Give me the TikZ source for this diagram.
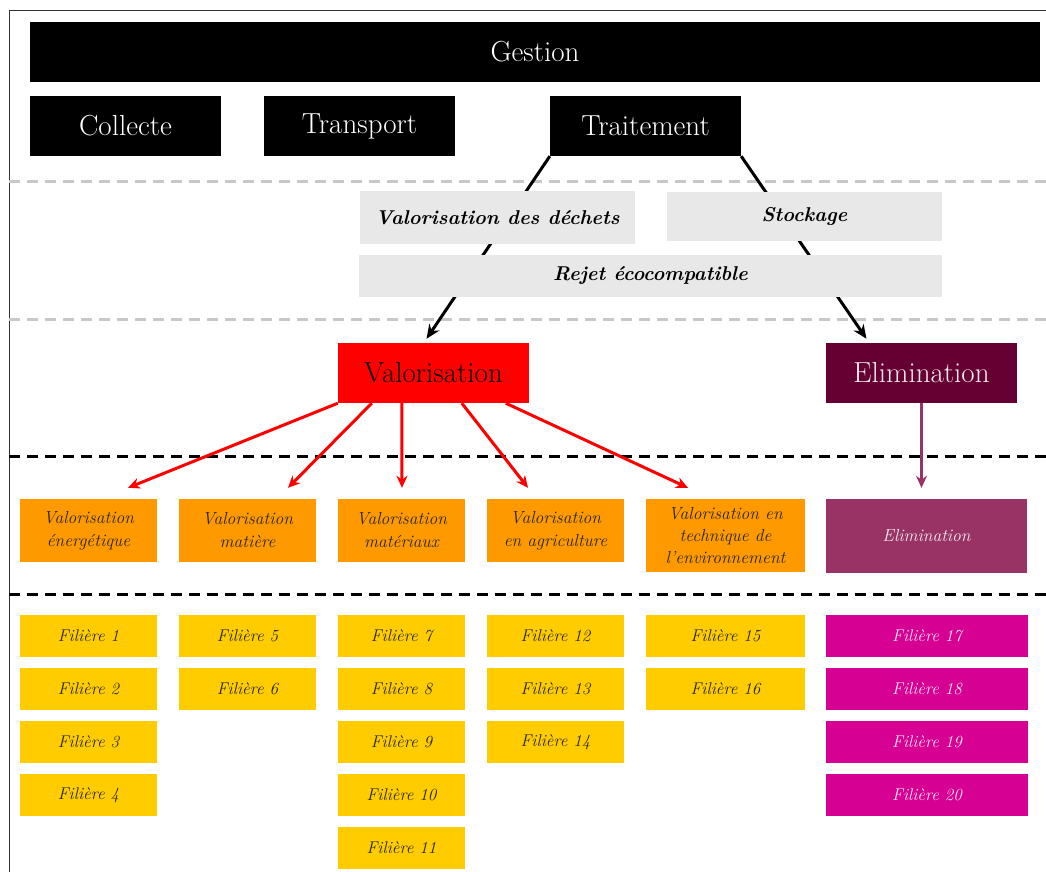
\documentclass[tikz,border=0pt]{standalone}
\usetikzlibrary{arrows.meta,calc}

\definecolor{valred}{RGB}{255,0,0}
\definecolor{elimdark}{RGB}{102,0,51}
\definecolor{elimlight}{RGB}{153,51,102}
\definecolor{valorange}{RGB}{255,153,0}
\definecolor{filyellow}{RGB}{255,204,0}
\definecolor{filpink}{RGB}{214,0,147}
\definecolor{boxgray}{RGB}{232,232,232}
\definecolor{dashgray}{RGB}{200,200,200}

\tikzset{
  blackbox/.style={fill=black, text=white, inner sep=0pt, font=\fontsize{29}{33}\selectfont},
  graybox/.style={fill=boxgray, inner sep=0pt, font=\bfseries\itshape\fontsize{20}{24}\selectfont},
  orangebox/.style={fill=valorange, inner sep=0pt, align=center, text=black!85, font=\itshape\fontsize{17.5}{23}\selectfont},
  filbox/.style={fill=filyellow, inner sep=0pt, minimum height=42, text=black!85, font=\itshape\fontsize{17}{20}\selectfont},
  pinkbox/.style={fill=filpink, inner sep=0pt, minimum height=42, minimum width=202, text=white!90!filpink, font=\itshape\fontsize{17}{20}\selectfont},
  sepline/.style={line width=3pt, dash pattern=on 11pt off 7pt},
}

\begin{document}
\begin{tikzpicture}[x=1pt,y=1pt,yscale=-1,xscale=1]
        \useasboundingbox (0,0) rectangle (1046,872);

        % Frame
        \draw [black!80, line width=1pt] (9,872) -- (9,11) -- (1046,11);

        % Separators
        \draw [sepline, dashgray] (9,181) -- (1046,181);
        \draw [sepline, dashgray] (9,319) -- (1046,319);
        \draw [sepline, black] (9,456) -- (1046,456);
        \draw [sepline, black] (9,594) -- (1046,594);

        % Gestion row
        \node [blackbox, minimum width=1010, minimum height=60] (gestion) at (535,52) {Gestion};
        \node [blackbox, minimum width=191, minimum height=60] (collecte) at (125.5,126) {Collecte};
        \node [blackbox, minimum width=191, minimum height=60] (transport) at (359.5,126) {Transport};
        \node [blackbox, minimum width=191, minimum height=60] (traitement) at (645.5,126) {Traitement};

        % Valorisation / Elimination
        \node [fill=valred, text=black, inner sep=0pt, minimum width=191, minimum height=60, font=\fontsize{29}{33}\selectfont] (valo) at (433.5,373) {Valorisation};
        \node [fill=elimdark, text=white!92!elimdark, inner sep=0pt, minimum width=191, minimum height=60, font=\fontsize{29}{33}\selectfont] (elim) at (921.5,373) {Elimination};

        % Arrows behind the gray boxes
        \draw [line width=3pt, -{Stealth[length=14pt,width=12pt]}] (traitement.south west) -- ($(valo.north)+(-7,-4)$);
        \draw [line width=3pt, -{Stealth[length=14pt,width=12pt]}] (traitement.south east) -- ($(elim.north)+(-55,-4)$);

        % Gray boxes
        \node [graybox, minimum width=275, minimum height=53] (dechets) at (497.5,217.5) {Valorisation des déchets};
        \node [graybox, minimum width=275, minimum height=49] (stockage) at (804.5,216.5) {Stockage};
        \node [graybox, minimum width=583, minimum height=42] (rejet) at (650.5,276) {Rejet écocompatible};

        % Orange boxes
        \node [orangebox, minimum width=137, minimum height=63] (energ) at (88.5,530.5) {Valorisation\\énergétique};
        \node [orangebox, minimum width=137, minimum height=63] (matiere) at (247.5,530.5) {Valorisation\\matière};
        \node [orangebox, minimum width=127, minimum height=63] (materiaux) at (401.5,530.5) {Valorisation\\matériaux};
        \node [orangebox, minimum width=137, minimum height=63] (agri) at (555.5,530.5) {Valorisation\\en agriculture};
        \node [orangebox, minimum width=159, minimum height=73, font=\itshape\fontsize{17.5}{22}\selectfont] (envir) at (725.5,535.5) {Valorisation en\\technique de\\l'environnement};
        \node [fill=elimlight, inner sep=0pt, minimum width=201, minimum height=74, text=white!90!elimlight, font=\itshape\fontsize{17.5}{20}\selectfont] (elimbis) at (926.5,536) {Elimination};

        % Red arrows
        \draw [valred, line width=3pt, -{Stealth[length=12pt,width=11pt]}] (valo.south west) -- ($(energ.north)+(39.5,-11)$);
        \draw [valred, line width=3pt, -{Stealth[length=12pt,width=11pt]}] ($(valo.south west)+(34,0)$) -- ($(matiere.north)+(40.5,-11)$);
        \draw [valred, line width=3pt, -{Stealth[length=12pt,width=11pt]}] ($(valo.south west)+(64,0)$) -- ($(materiaux.north)+(0.5,-11)$);
        \draw [valred, line width=3pt, -{Stealth[length=12pt,width=11pt]}] ($(valo.south west)+(124,0)$) -- ($(agri.north)+(-27.5,-11)$);
        \draw [valred, line width=3pt, -{Stealth[length=12pt,width=11pt]}] ($(valo.south west)+(168,0)$) -- ($(envir.north)+(-37.5,-11)$);

        % Purple arrow
        \coordinate (elimtip) at ($(elimbis.north)+(0,-11)$);
        \draw [elimlight, line width=3pt, -{Stealth[length=12pt,width=11pt]}] (elim.south) -- (elim.south |- elimtip);

        % Filieres
        \node [filbox, minimum width=137] (f1) at (88.5,636) {Filière 1};
        \node [filbox, minimum width=137] (f2) at (88.5,689) {Filière 2};
        \node [filbox, minimum width=137] (f3) at (88.5,742) {Filière 3};
        \node [filbox, minimum width=137] (f4) at (88.5,795) {Filière 4};
        \node [filbox, minimum width=137] (f5) at (247.5,636) {Filière 5};
        \node [filbox, minimum width=137] (f6) at (247.5,689) {Filière 6};
        \node [filbox, minimum width=127] (f7) at (401.5,636) {Filière 7};
        \node [filbox, minimum width=127] (f8) at (401.5,689) {Filière 8};
        \node [filbox, minimum width=127] (f9) at (401.5,742) {Filière 9};
        \node [filbox, minimum width=127] (f10) at (401.5,795) {Filière 10};
        \node [filbox, minimum width=127] (f11) at (401.5,848) {Filière 11};
        \node [filbox, minimum width=137] (f12) at (555.5,636) {Filière 12};
        \node [filbox, minimum width=137] (f13) at (555.5,689) {Filière 13};
        \node [filbox, minimum width=137] (f14) at (555.5,742) {Filière 14};
        \node [filbox, minimum width=159] (f15) at (725.5,636) {Filière 15};
        \node [filbox, minimum width=159] (f16) at (725.5,689) {Filière 16};
        \node [pinkbox] (f17) at (927,636) {Filière 17};
        \node [pinkbox] (f18) at (927,689) {Filière 18};
        \node [pinkbox] (f19) at (927,742) {Filière 19};
        \node [pinkbox] (f20) at (927,795) {Filière 20};

\end{tikzpicture}
\end{document}
